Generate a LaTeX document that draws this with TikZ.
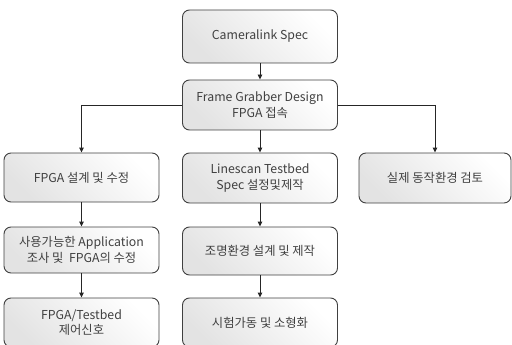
\documentclass[tikz,border=0pt]{standalone}
\usepackage{fontspec}
\setmainfont{Noto Sans CJK KR}
\usetikzlibrary{arrows.meta}
\begin{document}
\begin{tikzpicture}[x=1pt,y=-1pt,
  box/.style={draw=black!75, line width=0.9pt, rounded corners=7pt,
    left color=gray!22, right color=white, shading angle=135,
    align=center, font=\fontsize{12.3}{15.5}\selectfont, text=black!75,
    minimum width=155pt, minimum height=49pt, inner sep=1pt},
  link/.style={draw=black!85, line width=0.9pt, -{Triangle[length=5pt,width=4.5pt]}},
  wire/.style={draw=black!85, line width=0.9pt}]
\useasboundingbox (0,0) rectangle (512,345);
\begin{scope}
\clip (0,0) rectangle (512,345);
\node[box, minimum height=53pt] (spec) at (260,36.5) {Cameralink Spec};
\node[box, minimum height=50pt] (fg) at (260,105) {Frame Grabber Design\\FPGA 접속};
\node[box] (l1) at (81.5,177.5) {FPGA 설계 및 수정};
\node[box, minimum height=46pt] (l2) at (81.5,250) {사용가능한 Application\\조사 및 \ FPGA의 수정};
\node[box] (l3) at (81.5,322.5) {FPGA/Testbed\\제어신호};
\node[box, minimum height=50pt] (m1) at (260,178) {Linescan Testbed\\Spec 설정및제작};
\node[box, minimum height=48pt] (m2) at (260,251) {조명환경 설계 및 제작};
\node[box] (m3) at (260,322.5) {시험가동 및 소형화};
\node[box, minimum width=152pt, minimum height=50pt] (r1) at (435,178) {실제 동작환경 검토};
\end{scope}
\coordinate (lc) at (l1.north |- fg.west);
\coordinate (rc) at (r1.north |- fg.east);
\draw[link] (spec) -- (fg);
\draw[wire] (fg.west) -- (lc);
\draw[link] (lc) -- (l1);
\draw[wire] (fg.east) -- (rc);
\draw[link] (rc) -- (r1);
\draw[link] (fg) -- (m1);
\draw[link] (l1) -- (l2);
\draw[link] (l2) -- (l3);
\draw[link] (m1) -- (m2);
\draw[link] (m2) -- (m3);
\end{tikzpicture}
\end{document}
